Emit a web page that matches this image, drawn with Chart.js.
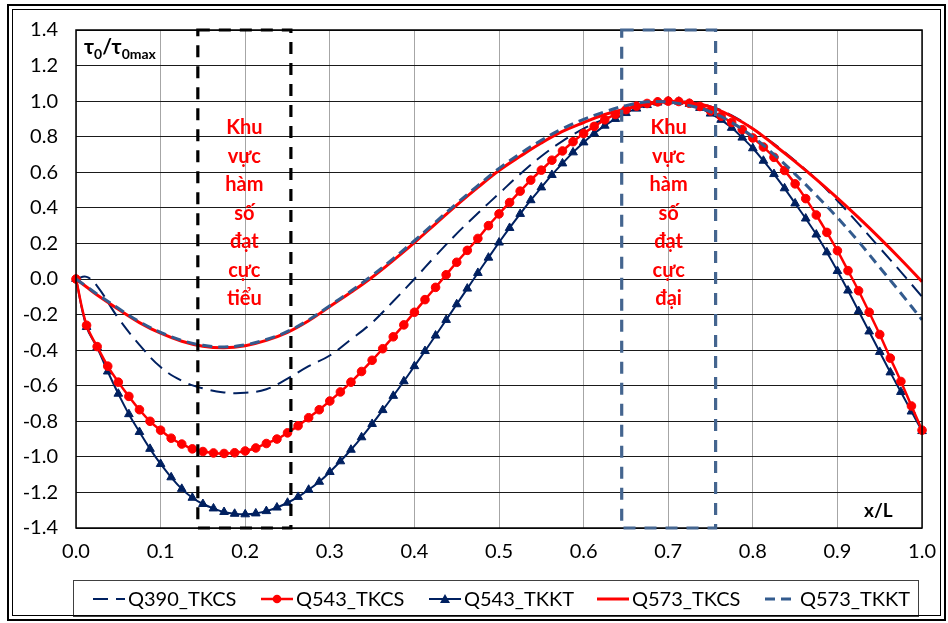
<!DOCTYPE html>
<html lang="vi">
<head>
<meta charset="utf-8">
<title>tau0 / tau0max theo x/L</title>
<script src="https://cdn.jsdelivr.net/npm/chart.js"></script>
<style>
  html, body { margin: 0; padding: 0; background: #fff; }
  #wrap { width: 948px; height: 623px; }
</style>
</head>
<body>
<div id="wrap"><canvas id="chart" width="948" height="623"></canvas></div>
<script>
// x/L positions of the marker series (Q543)
const xMarker = [0, 0.0125, 0.025, 0.0375, 0.05, 0.0625, 0.075, 0.0875, 0.1, 0.1125,
  0.125, 0.1375, 0.15, 0.1625, 0.175, 0.1875, 0.2, 0.2125, 0.225, 0.2375,
  0.25, 0.2625, 0.275, 0.2875, 0.3, 0.3125, 0.325, 0.3375, 0.35, 0.3625,
  0.375, 0.3875, 0.4, 0.4125, 0.425, 0.4375, 0.45, 0.4625, 0.475, 0.4875,
  0.5, 0.5125, 0.525, 0.5375, 0.55, 0.5625, 0.575, 0.5875, 0.6, 0.6125,
  0.625, 0.6375, 0.65, 0.6625, 0.675, 0.6875, 0.7, 0.7125, 0.725, 0.7375,
  0.75, 0.7625, 0.775, 0.7875, 0.8, 0.8125, 0.825, 0.8375, 0.85, 0.8625,
  0.875, 0.8875, 0.9, 0.9125, 0.925, 0.9375, 0.95, 0.9625, 0.975, 0.9875, 1.0];

const q543Tkcs = [0, -0.26, -0.38, -0.49, -0.58, -0.66, -0.735, -0.80, -0.85, -0.895,
  -0.928, -0.955, -0.97, -0.978, -0.981, -0.977, -0.967, -0.95, -0.925, -0.90,
  -0.865, -0.825, -0.78, -0.735, -0.686, -0.635, -0.58, -0.52, -0.457, -0.392,
  -0.325, -0.258, -0.187, -0.116, -0.047, 0.024, 0.094, 0.161, 0.228, 0.30,
  0.366, 0.43, 0.494, 0.556, 0.612, 0.668, 0.72, 0.772, 0.818, 0.858,
  0.895, 0.925, 0.952, 0.972, 0.987, 0.996, 1.0, 0.998, 0.988, 0.97,
  0.945, 0.915, 0.88, 0.84, 0.793, 0.742, 0.684, 0.61, 0.535, 0.452,
  0.36, 0.262, 0.159, 0.047, -0.066, -0.187, -0.312, -0.445, -0.576, -0.714, -0.85];

const q543Tkkt = [0, -0.27, -0.385, -0.52, -0.645, -0.76, -0.86, -0.955, -1.04, -1.115,
  -1.18, -1.23, -1.265, -1.29, -1.31, -1.32, -1.323, -1.318, -1.305, -1.285,
  -1.258, -1.225, -1.185, -1.14, -1.085, -1.025, -0.96, -0.89, -0.815, -0.737,
  -0.657, -0.575, -0.49, -0.405, -0.318, -0.23, -0.142, -0.054, 0.034, 0.12,
  0.205, 0.287, 0.366, 0.443, 0.515, 0.585, 0.65, 0.712, 0.768, 0.818,
  0.862, 0.90, 0.933, 0.958, 0.978, 0.992, 0.999, 0.997, 0.985, 0.962,
  0.93, 0.895, 0.85, 0.795, 0.735, 0.665, 0.59, 0.51, 0.425, 0.34,
  0.25, 0.15, 0.045, -0.065, -0.18, -0.295, -0.41, -0.525, -0.635, -0.745, -0.855];

// x/L positions of the plain line series
const xLine = [0, 0.0125, 0.025, 0.05, 0.075, 0.1, 0.125, 0.15, 0.175, 0.2,
  0.225, 0.25, 0.275, 0.3, 0.325, 0.35, 0.375, 0.4, 0.425, 0.45,
  0.475, 0.5, 0.525, 0.55, 0.575, 0.6, 0.625, 0.65, 0.675, 0.7,
  0.725, 0.75, 0.775, 0.8, 0.825, 0.85, 0.875, 0.9, 0.925, 0.95, 0.975, 1.0];

const q390Tkcs = [0, 0.012, -0.04, -0.22, -0.37, -0.495, -0.572, -0.615, -0.638, -0.64,
  -0.62, -0.56, -0.49, -0.43, -0.34, -0.245, -0.125, 0.0, 0.13, 0.255,
  0.37, 0.48, 0.59, 0.69, 0.775, 0.845, 0.90, 0.945, 0.98, 0.998,
  0.995, 0.97, 0.92, 0.845, 0.76, 0.665, 0.56, 0.44, 0.31, 0.175, 0.04, -0.10];

const q573Tkcs = [0, -0.045, -0.09, -0.17, -0.245, -0.305, -0.35, -0.378, -0.387, -0.375,
  -0.345, -0.30, -0.235, -0.155, -0.075, 0.01, 0.105, 0.205, 0.31, 0.415,
  0.515, 0.61, 0.69, 0.765, 0.83, 0.88, 0.925, 0.957, 0.983, 0.997,
  0.99, 0.968, 0.915, 0.845, 0.755, 0.66, 0.56, 0.455, 0.345, 0.23, 0.11, -0.015];

const q573Tkkt = [0, -0.042, -0.085, -0.165, -0.24, -0.30, -0.345, -0.373, -0.382, -0.37,
  -0.34, -0.295, -0.23, -0.15, -0.068, 0.02, 0.115, 0.215, 0.32, 0.425,
  0.525, 0.622, 0.705, 0.78, 0.845, 0.897, 0.94, 0.975, 0.996, 0.995,
  0.975, 0.94, 0.88, 0.80, 0.70, 0.59, 0.47, 0.345, 0.21, 0.065, -0.08, -0.23];

const seriesNames = ['Q390_TKCS', 'Q543_TKCS', 'Q543_TKKT', 'Q573_TKCS', 'Q573_TKKT'];

// marked regions (x/L extents) and their captions
const minRegion = [0.144, 0.254];
const maxRegion = [0.645, 0.756];
const minText = ['Khu', 'vực', 'hàm', 'số', 'đạt', 'cực', 'tiểu'];
const maxText = ['Khu', 'vực', 'hàm', 'số', 'đạt', 'cực', 'đại'];

const FONT = 'Lato, "Liberation Sans", sans-serif';
const NAVY = '#002060';
const RED = '#FF0000';
const STEEL = '#335B8E';

function pts(xs, ys) {
  return xs.map((x, i) => ({ x: x, y: ys[i] }));
}

const styles = {
  Q390_TKCS: { color: NAVY, width: 2, dash: [15, 8], point: false },
  Q543_TKCS: { color: RED, width: 2.5, dash: [], point: 'circle' },
  Q543_TKKT: { color: NAVY, width: 2, dash: [], point: 'triangle' },
  Q573_TKCS: { color: RED, width: 3, dash: [], point: false },
  Q573_TKKT: { color: STEEL, width: 3, dash: [10, 6], point: false }
};

function ds(name, data, order) {
  const s = styles[name];
  return {
    label: name,
    data: data,
    order: order,
    borderColor: s.color,
    backgroundColor: s.color,
    borderWidth: s.width,
    borderDash: s.dash,
    pointStyle: s.point || 'circle',
    pointRadius: s.point === 'circle' ? 4.3 : (s.point === 'triangle' ? 5 : 0),
    pointBorderWidth: 1,
    pointBorderColor: s.color,
    pointBackgroundColor: s.color,
    tension: 0.4,
    fill: false,
    clip: false
  };
}

const decor = {
  id: 'decor',
  afterDatasetsDraw(chart) {
    const ctx = chart.ctx;
    const a = chart.chartArea;
    const xs = chart.scales.x;
    const ys = chart.scales.y;
    ctx.save();

    // plot box
    ctx.strokeStyle = '#000';
    ctx.lineWidth = 1.5;
    ctx.setLineDash([]);
    ctx.strokeRect(a.left, a.top, a.right - a.left, a.bottom - a.top);

    // region boxes
    function region(r, color) {
      const x1 = xs.getPixelForValue(r[0]);
      const x2 = xs.getPixelForValue(r[1]);
      ctx.strokeStyle = color;
      ctx.lineWidth = 3.2;
      ctx.setLineDash([12, 9]);
      ctx.strokeRect(x1, a.top, x2 - x1, a.bottom - a.top);
    }
    region(minRegion, '#000');
    region(maxRegion, '#44658F');
    ctx.setLineDash([]);

    // region captions
    function caption(r, lines) {
      const cx = xs.getPixelForValue((r[0] + r[1]) / 2);
      const y0 = ys.getPixelForValue(0.85);
      ctx.fillStyle = RED;
      ctx.font = 'bold 20px ' + FONT;
      ctx.textAlign = 'center';
      ctx.textBaseline = 'middle';
      lines.forEach((t, i) => ctx.fillText(t, cx, y0 + i * 28.5));
    }
    caption(minRegion, minText);
    caption(maxRegion, maxText);

    // axis titles
    ctx.fillStyle = '#000';
    ctx.textAlign = 'left';
    ctx.textBaseline = 'alphabetic';
    let tx = a.left + 8;
    const big = 'bold 21px ' + FONT, small = 'bold 14px ' + FONT;
    [['τ', big, 0], ['0', small, 5], ['/τ', big, 0], ['0max', small, 5]].forEach(p => {
      ctx.font = p[1];
      ctx.fillText(p[0], tx, 54 + p[2]);
      tx += ctx.measureText(p[0]).width;
    });
    ctx.font = 'bold 19px ' + FONT;
    ctx.fillText('x/L', 864, 517);

    // legend
    ctx.strokeStyle = '#404040';
    ctx.lineWidth = 1;
    ctx.strokeRect(73.5, 580.5, 845, 36);
    const ly = 599;
    seriesNames.forEach((name, i) => {
      const s = styles[name];
      const x0 = 93 + i * 168;
      ctx.strokeStyle = s.color;
      ctx.fillStyle = s.color;
      ctx.lineWidth = s.width;
      ctx.setLineDash(s.dash);
      ctx.beginPath();
      ctx.moveTo(x0, ly);
      ctx.lineTo(x0 + 32, ly);
      ctx.stroke();
      ctx.setLineDash([]);
      if (s.point === 'circle') {
        ctx.beginPath();
        ctx.arc(x0 + 16, ly, 4.3, 0, Math.PI * 2);
        ctx.fill();
      } else if (s.point === 'triangle') {
        ctx.beginPath();
        ctx.moveTo(x0 + 16, ly - 5);
        ctx.lineTo(x0 + 21, ly + 4);
        ctx.lineTo(x0 + 11, ly + 4);
        ctx.closePath();
        ctx.fill();
      }
      ctx.fillStyle = '#000';
      ctx.font = '20px ' + FONT;
      ctx.textBaseline = 'middle';
      ctx.fillText(name, x0 + 35, ly + 1);
    });

    // outer frame
    ctx.strokeStyle = '#000';
    ctx.lineWidth = 2;
    ctx.strokeRect(8, 5, 937, 615);
    ctx.lineWidth = 1;
    ctx.strokeRect(12.5, 9.5, 928, 606);
    ctx.restore();
  }
};

new Chart(document.getElementById('chart'), {
  type: 'line',
  data: {
    datasets: [
      ds('Q390_TKCS', pts(xLine, q390Tkcs), 4),
      ds('Q543_TKCS', pts(xMarker, q543Tkcs), 2),
      ds('Q543_TKKT', pts(xMarker, q543Tkkt), 3),
      ds('Q573_TKCS', pts(xLine, q573Tkcs), 1),
      ds('Q573_TKKT', pts(xLine, q573Tkkt), 0)
    ]
  },
  options: {
    responsive: false,
    devicePixelRatio: 1,
    animation: false,
    layout: { padding: { left: 14, right: 21, top: 30, bottom: 0 } },
    plugins: { legend: { display: false }, tooltip: { enabled: false } },
    scales: {
      x: {
        type: 'linear',
        min: 0,
        max: 1,
        afterFit: s => { s.height = 95; },
        grid: { color: '#A6A6A6', lineWidth: 1, drawTicks: false },
        border: { display: false },
        ticks: {
          stepSize: 0.1,
          autoSkip: false,
          maxRotation: 0,
          padding: 12,
          color: '#000',
          font: { family: FONT, size: 20 },
          callback: v => v.toFixed(1)
        }
      },
      y: {
        min: -1.4,
        max: 1.4,
        afterFit: s => { s.width = 62; },
        grid: { color: '#1a1a1a', lineWidth: 1, drawTicks: false },
        border: { display: false },
        ticks: {
          stepSize: 0.2,
          autoSkip: false,
          padding: 18,
          color: '#000',
          font: { family: FONT, size: 20 },
          callback: v => v.toFixed(1)
        }
      }
    }
  },
  plugins: [decor]
});
</script>
</body>
</html>
